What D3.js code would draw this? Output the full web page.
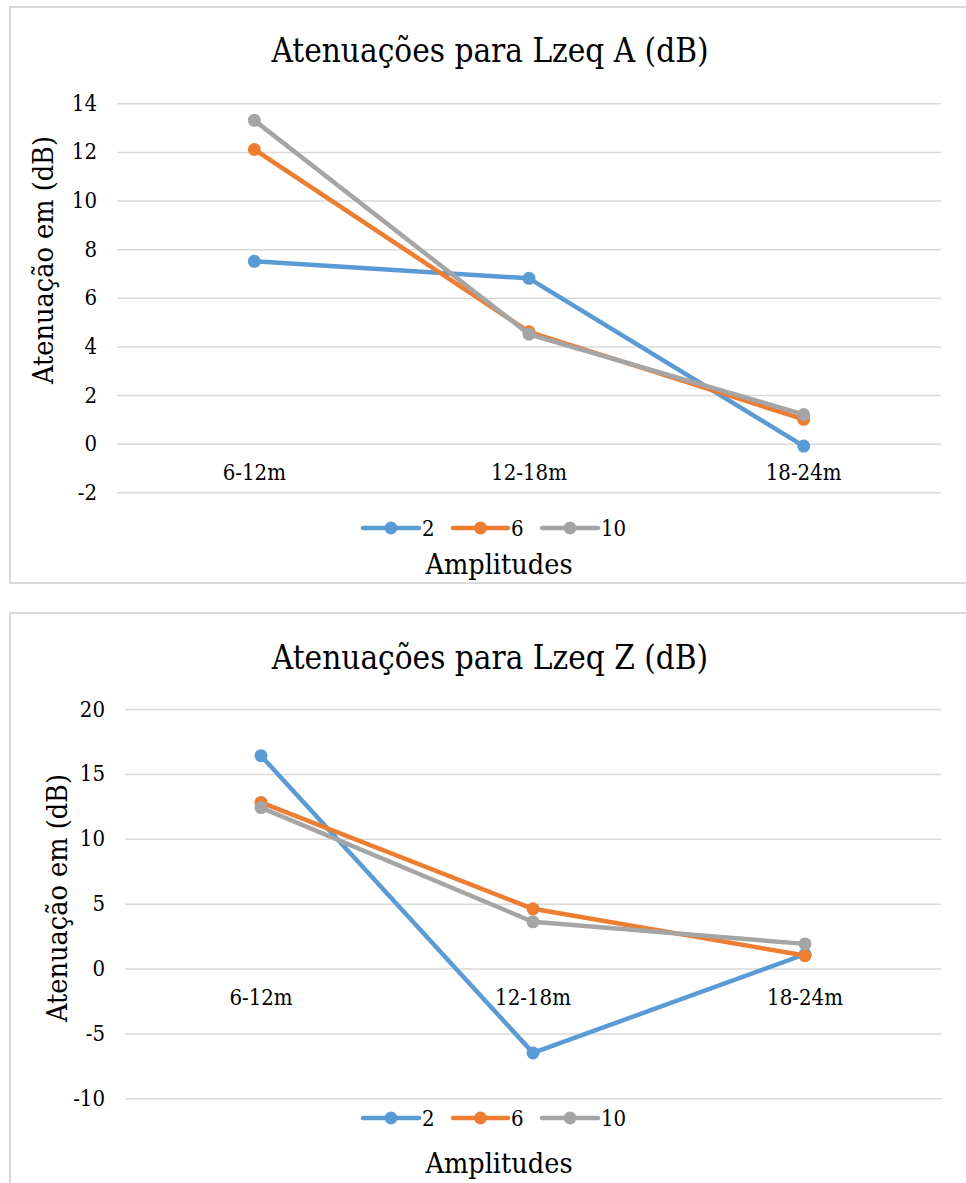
<!DOCTYPE html>
<html>
<head>
<meta charset="utf-8">
<script src="https://cdn.jsdelivr.net/npm/d3@7"></script>
<style>
  html, body { margin: 0; padding: 0; background: #ffffff; }
  svg { display: block; }
  svg text { font-stretch: condensed; }
</style>
</head>
<body>
<svg id="chart" width="966" height="1183"></svg>
<script>
// Distance bands (x categories) and noise-amplitude series
const categories = ["6-12m", "12-18m", "18-24m"];
const seriesNames = ["2", "6", "10"];
const seriesColors = ["#5b9bd5", "#ed7d31", "#a5a5a5"];

// Attenuation, Lzeq A (dB)
const lzeqA_2 = [7.5, 6.8, -0.1];
const lzeqA_6 = [12.1, 4.6, 1.0];
const lzeqA_10 = [13.3, 4.5, 1.2];
const ticksA = [-2, 0, 2, 4, 6, 8, 10, 12, 14];

// Attenuation, Lzeq Z (dB)
const lzeqZ_2 = [16.4, -6.5, 1.1];
const lzeqZ_6 = [12.8, 4.6, 1.0];
const lzeqZ_10 = [12.4, 3.6, 1.9];
const ticksZ = [-10, -5, 0, 5, 10, 15, 20];

const FONT = '"DejaVu Serif", serif';
const SIZE_TITLE = 33, SIZE_AXIS_TITLE = 28.5, SIZE_LABEL = 22;

const svg = d3.select("#chart")
  .attr("font-family", FONT);

function drawChart(opt) {
  const g = svg.append("g").attr("font-family", FONT);

  // outer frame
  g.append("rect")
    .attr("x", opt.box.x).attr("y", opt.box.y)
    .attr("width", opt.box.w).attr("height", opt.box.h)
    .attr("fill", "#fff").attr("stroke", "#d9d9d9").attr("stroke-width", 2);

  // title
  g.append("text")
    .attr("x", 490).attr("y", opt.titleY)
    .attr("text-anchor", "middle")
    .attr("font-size", SIZE_TITLE)
    .text(opt.title);

  const x = d3.scaleBand().domain(categories).range([opt.left, opt.right]).padding(0);
  const cx = c => x(c) + x.bandwidth() / 2;
  const y = d3.scaleLinear().domain(opt.domain).range([opt.bottom, opt.top]);

  // horizontal gridlines
  g.append("g")
    .attr("transform", `translate(${opt.left},0)`)
    .call(d3.axisLeft(y).tickValues(opt.ticks).tickSize(-(opt.right - opt.left)).tickFormat(""))
    .call(s => s.select(".domain").remove())
    .call(s => s.selectAll(".tick line").attr("stroke", "#d9d9d9").attr("stroke-width", 1.5));

  // value axis labels (plain hyphen for negatives)
  g.append("g")
    .attr("transform", `translate(${opt.left},0)`)
    .call(d3.axisLeft(y).tickValues(opt.ticks).tickSize(0)
      .tickPadding(opt.left - opt.labelRight).tickFormat(d => String(d)))
    .attr("font-family", FONT)
    .attr("font-size", SIZE_LABEL)
    .call(s => s.select(".domain").remove())
    .call(s => s.selectAll(".tick text").attr("fill", "#000"));

  // category labels, just below the zero line
  g.append("g").selectAll("text")
    .data(categories)
    .join("text")
    .attr("x", d => cx(d))
    .attr("y", y(0) + 36.5)
    .attr("text-anchor", "middle")
    .attr("font-size", SIZE_LABEL)
    .text(d => d);

  // vertical axis title
  g.append("text")
    .attr("transform", `translate(${opt.yTitleX},${opt.yTitleY}) rotate(-90)`)
    .attr("text-anchor", "middle")
    .attr("font-size", SIZE_AXIS_TITLE)
    .text("Atenuação em (dB)");

  // series lines and markers
  const line = d3.line().x((d, i) => cx(categories[i])).y(d => y(d));
  opt.series.forEach((vals, si) => {
    const sg = g.append("g");
    sg.append("path")
      .datum(vals)
      .attr("d", line)
      .attr("fill", "none")
      .attr("stroke", seriesColors[si])
      .attr("stroke-width", 4.5)
      .attr("stroke-linejoin", "round")
      .attr("stroke-linecap", "round");
    sg.selectAll("circle")
      .data(vals)
      .join("circle")
      .attr("cx", (d, i) => cx(categories[i]))
      .attr("cy", d => y(d))
      .attr("r", 6.5)
      .attr("fill", seriesColors[si]);
  });

  // legend
  const legendItems = [
    { x0: 363, x1: 419, tx: 422 },
    { x0: 453, x1: 508, tx: 511 },
    { x0: 542, x1: 598, tx: 601 }
  ];
  const lg = g.append("g");
  seriesNames.forEach((name, si) => {
    const it = legendItems[si];
    lg.append("line")
      .attr("x1", it.x0).attr("x2", it.x1)
      .attr("y1", opt.legendY).attr("y2", opt.legendY)
      .attr("stroke", seriesColors[si]).attr("stroke-width", 4.5)
      .attr("stroke-linecap", "round");
    lg.append("circle")
      .attr("cx", (it.x0 + it.x1) / 2).attr("cy", opt.legendY)
      .attr("r", 6.5).attr("fill", seriesColors[si]);
    lg.append("text")
      .attr("x", it.tx).attr("y", opt.legendY + 8)
      .attr("font-size", SIZE_LABEL)
      .text(name);
  });

  // category axis title
  g.append("text")
    .attr("x", 499).attr("y", opt.xTitleY)
    .attr("text-anchor", "middle")
    .attr("font-size", SIZE_AXIS_TITLE)
    .text("Amplitudes");
}

drawChart({
  box: { x: 10, y: 7, w: 960, h: 576 },
  title: "Atenuações para Lzeq A (dB)",
  titleY: 62,
  left: 117, right: 941, top: 103.3, bottom: 492.3,
  domain: [-2, 14], ticks: ticksA,
  labelRight: 97,
  yTitleX: 53, yTitleY: 260,
  series: [lzeqA_2, lzeqA_6, lzeqA_10],
  legendY: 528,
  xTitleY: 574
});

drawChart({
  box: { x: 10, y: 613, w: 960, h: 600 },
  title: "Atenuações para Lzeq Z (dB)",
  titleY: 669,
  left: 125, right: 941, top: 709, bottom: 1098.3,
  domain: [-10, 20], ticks: ticksZ,
  labelRight: 105,
  yTitleX: 67, yTitleY: 898,
  series: [lzeqZ_2, lzeqZ_6, lzeqZ_10],
  legendY: 1118,
  xTitleY: 1173
});
</script>
</body>
</html>
